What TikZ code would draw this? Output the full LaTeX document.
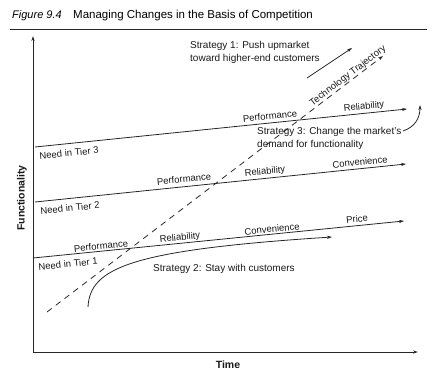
\documentclass[tikz,border=0pt]{standalone}
\usepackage{fontspec}
\setmainfont{Liberation Sans}
\usetikzlibrary{arrows.meta}
\begin{document}
\begin{tikzpicture}[x=1pt,y=-1pt,
  ink/.style={draw=black!85, line width=0.8pt},
  arr/.style={ink, -{Stealth[length=5pt,width=3.2pt]}},
  lbl/.style={font=\fontsize{9.5}{11}\selectfont, inner sep=0pt, text=black!90},
  onln/.style={lbl, rotate=5.8},
  strat/.style={font=\fontsize{10}{13.5}\selectfont, inner sep=0pt, align=left, text=black!90},
  axlbl/.style={font=\fontsize{10.5}{12}\selectfont\bfseries, inner sep=0pt, text=black!90}]
\useasboundingbox (0,0) rectangle (448,370);
% title
\node[anchor=base west, font=\fontsize{11}{13}\selectfont\itshape, inner sep=0pt] (fig) at (12,18) {Figure 9.4};
\node[anchor=base west, font=\fontsize{11.5}{13}\selectfont, inner sep=0pt] (title) at (73,18) {Managing Changes in the Basis of Competition};
\coordinate (r0) at (10,29); \coordinate (r1) at (427,29);
\draw[ink] (r0) -- (r1);
% axes
\coordinate (O) at (33,352); \coordinate (ytop) at (33,36); \coordinate (xend) at (418,352);
\draw[arr] (O) -- (ytop);
\draw[arr] (O) -- (xend);
\node[axlbl, rotate=90] (fy) at (22,198) {Functionality};
\node[axlbl] (fx) at (228,365) {Time};
% tier lines
\coordinate (t3s) at (35,147); \coordinate (t3e) at (407,109);
\coordinate (t2s) at (35,202); \coordinate (t2e) at (406,164);
\coordinate (t1s) at (33,258); \coordinate (t1e) at (404,221);
\draw[arr] (t3s) -- (t3e);
\draw[arr] (t2s) -- (t2e);
\draw[arr] (t1s) -- (t1e);
\node[onln] (n3) at (69,153) {Need in Tier 3};
\node[onln] (n2) at (70,208) {Need in Tier 2};
\node[onln] (n1) at (68,264) {Need in Tier 1};
\node[onln] (p3) at (270,116) {Performance};
\node[onln] (r3) at (364,107) {Reliability};
\node[onln] (p2) at (184,179) {Performance};
\node[onln] (r2) at (265,172) {Reliability};
\node[onln] (c2) at (360,162) {Convenience};
\node[onln] (p1) at (101,246) {Performance};
\node[onln] (r1l) at (180,238) {Reliability};
\node[onln] (c1) at (272,229) {Convenience};
\node[onln] (pr1) at (357,219) {Price};
% technology trajectory
\coordinate (d0) at (47,312); \coordinate (d1) at (383,56);
\draw[arr, dash pattern=on 6pt off 5pt] (d0) -- (d1);
\node[lbl, rotate=37.3] (tt) at (348,76) {Technology Trajectory};
% strategy 1
\node[strat, anchor=north west] (s1) at (190,41) {Strategy 1: Push upmarket\\toward higher-end customers};
\coordinate (s1a) at (307,78); \coordinate (s1b) at (352,48);
\draw[arr] (s1a) -- (s1b);
% strategy 2
\coordinate (s2a) at (88,307); \coordinate (s2b) at (332,237);
\draw[arr] (s2a) .. controls (90,268) and (130,250) .. (s2b);
\node[strat, anchor=west] (s2) at (153,269) {Strategy 2: Stay with customers};
% strategy 3
\node[strat, anchor=north west] (s3) at (257,127) {Strategy 3: Change the market's\\demand for functionality};
\coordinate (s3a) at (403,131); \coordinate (s3b) at (420,105);
\draw[arr] (s3a) .. controls (415,127) and (420,118) .. (s3b);
\end{tikzpicture}
\end{document}
